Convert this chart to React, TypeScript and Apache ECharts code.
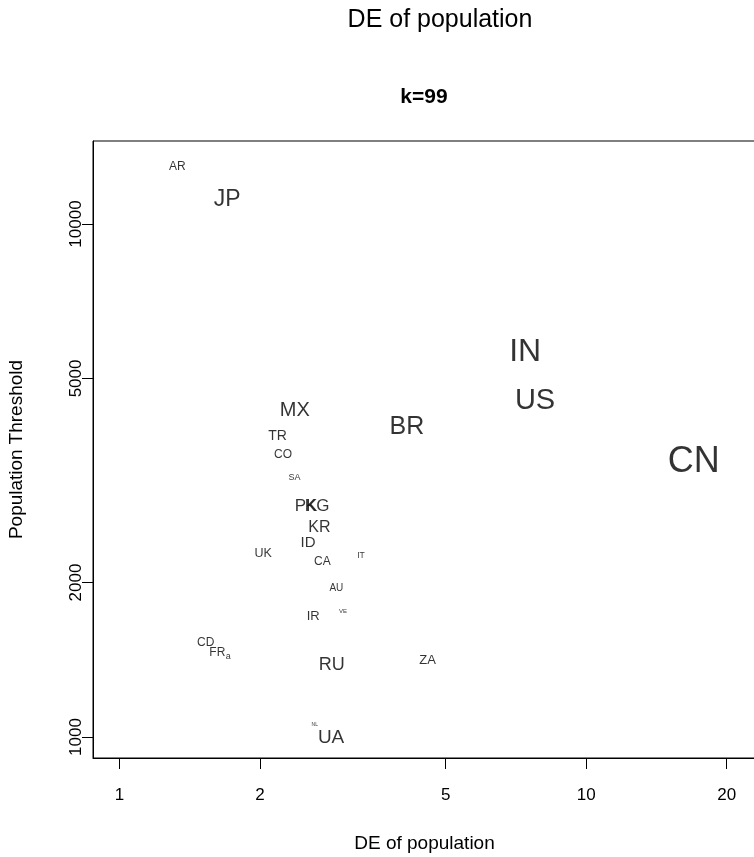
import React, { useEffect, useRef } from "react";
import * as echarts from "echarts";

const countries = ["AR", "JP", "IN", "US", "BR", "CN", "MX", "TR", "CO", "SA", "PK", "KG", "KR", "ID", "UK", "CA", "IT", "AU", "VE", "IR", "CD", "FR", "a", "RU", "ZA", "NL", "UA"];
const deValues = [1.33, 1.70, 7.40, 7.77, 4.13, 17.0, 2.375, 2.18, 2.24, 2.37, 2.51, 2.65, 2.68, 2.535, 2.03, 2.72, 3.29, 2.915, 3.01, 2.60, 1.53, 1.62, 1.71, 2.85, 4.57, 2.62, 2.84];
const thresholds = [12990, 11220, 5680, 4560, 4060, 3470, 4365, 3885, 3566, 3217, 2824, 2824, 2570, 2403, 2285, 2200, 2261, 1956, 1760, 1729, 1534, 1463, 1439, 1386, 1417, 1062, 1000];
const labelSizes = [12, 23, 32, 29, 25, 36, 20, 14, 12, 9, 17, 17, 16, 15, 12.5, 12, 8.5, 10, 6, 13, 12, 12, 9, 18, 13, 5, 19];
const xTicks = [1, 2, 5, 10, 20];
const yTicks = [1000, 2000, 5000, 10000];
const xRange = [0.877, 23.12];
const yRange = [910, 14516];

const FONT = "'Liberation Sans', Arial, sans-serif";

export default function App() {
  const ref = useRef<HTMLDivElement>(null);
  useEffect(() => {
    if (!ref.current) return;
    const chart = echarts.init(ref.current, null, { renderer: "svg" });
    const fmt = (v: number) => String(Math.round(Math.pow(10, v)));
    chart.setOption({
      animation: false,
      textStyle: { fontFamily: FONT },
      grid: {
        left: 93,
        top: 141,
        width: 663,
        height: 617,
        show: true,
        borderColor: "#000",
        borderWidth: 1,
        containLabel: false,
        outerBoundsMode: "none",
      },
      graphic: [
        {
          type: "text",
          x: 440,
          y: 18,
          style: { text: "DE of population", fontSize: 25, fontFamily: FONT, fill: "#000", textAlign: "center", textVerticalAlign: "middle" },
        },
        {
          type: "text",
          x: 424,
          y: 95,
          style: { text: "k=99", fontSize: 21, fontWeight: "bold", fontFamily: FONT, fill: "#000", textAlign: "center", textVerticalAlign: "middle" },
        },
      ],
      xAxis: {
        type: "value",
        min: Math.log10(xRange[0]),
        max: Math.log10(xRange[1]),
        splitLine: { show: false },
        axisLine: { show: true, onZero: false, lineStyle: { color: "#000", width: 1 } },
        axisTick: { show: true, inside: false, length: 11, lineStyle: { color: "#000" }, customValues: xTicks.map(Math.log10) },
        axisLabel: { customValues: xTicks.map(Math.log10), formatter: fmt, fontSize: 17, color: "#000", margin: 28, fontFamily: FONT },
        name: "DE of population",
        nameLocation: "middle",
        nameGap: 75,
        nameTextStyle: { fontSize: 19, color: "#000", fontFamily: FONT },
      },
      yAxis: {
        type: "value",
        min: Math.log10(yRange[0]),
        max: Math.log10(yRange[1]),
        splitLine: { show: false },
        axisLine: { show: true, onZero: false, lineStyle: { color: "#000", width: 1 } },
        axisTick: { show: true, inside: false, length: 11, lineStyle: { color: "#000" }, customValues: yTicks.map(Math.log10) },
        axisLabel: { customValues: yTicks.map(Math.log10), formatter: fmt, fontSize: 17, color: "#000", margin: 9, rotate: 90, fontFamily: FONT },
        name: "Population Threshold",
        nameLocation: "middle",
        nameRotate: 90,
        nameGap: 68,
        nameTextStyle: { fontSize: 19, color: "#000", fontFamily: FONT },
      },
      series: [
        {
          type: "scatter",
          symbolSize: 1,
          itemStyle: { color: "rgba(0,0,0,0)" },
          silent: true,
          label: { show: true, position: "inside", formatter: "{b}", color: "#000", fontFamily: FONT },
          labelLayout: { hideOverlap: false },
          data: countries.map((c, i) => ({
            name: c,
            value: [Math.log10(deValues[i]), Math.log10(thresholds[i])],
            label: { fontSize: labelSizes[i] },
          })),
        },
      ],
    });
    return () => chart.dispose();
  }, []);
  return <div ref={ref} style={{ position: "fixed", left: 0, top: 0, width: 754, height: 857 }} />;
}
